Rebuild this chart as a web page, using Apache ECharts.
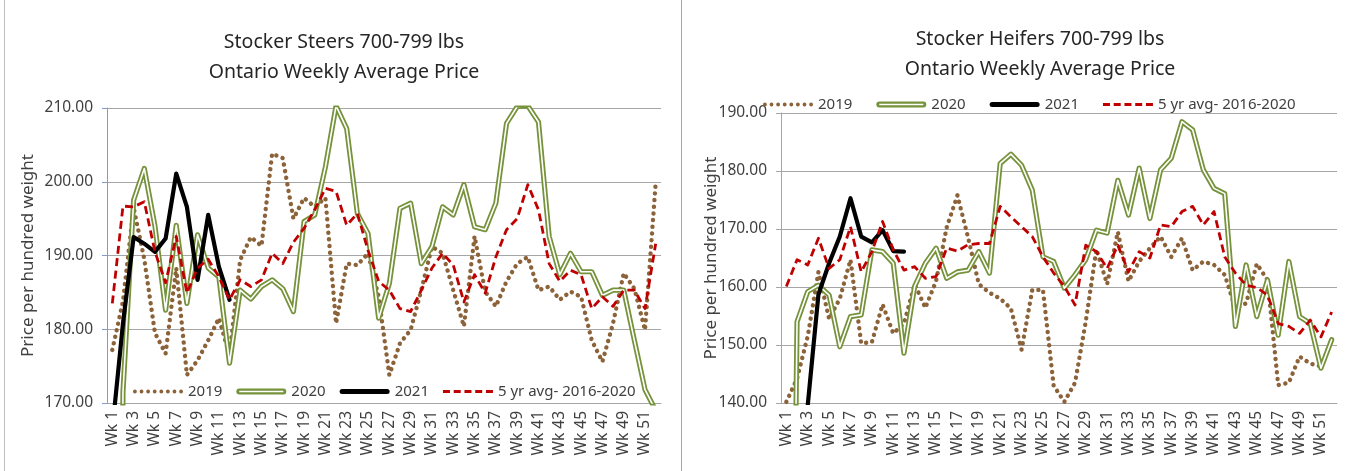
<!DOCTYPE html>
<html><head><meta charset="utf-8">
<script src="https://cdn.jsdelivr.net/npm/echarts@6/dist/echarts.min.js"></script>
<style>html,body{margin:0;padding:0;background:#fff;overflow:hidden}
#wrap{position:relative;width:1356px;height:471px}
#c1{position:absolute;left:0;top:0;width:680px;height:471px}
#c2{position:absolute;left:680px;top:0;width:676px;height:471px}
</style></head><body><div id="wrap"><div id="c1"></div><div id="c2"></div></div>
<script>
const weeks = ['Wk 1','Wk 2','Wk 3','Wk 4','Wk 5','Wk 6','Wk 7','Wk 8','Wk 9','Wk 10','Wk 11','Wk 12','Wk 13','Wk 14','Wk 15','Wk 16','Wk 17','Wk 18','Wk 19','Wk 20','Wk 21','Wk 22','Wk 23','Wk 24','Wk 25','Wk 26','Wk 27','Wk 28','Wk 29','Wk 30','Wk 31','Wk 32','Wk 33','Wk 34','Wk 35','Wk 36','Wk 37','Wk 38','Wk 39','Wk 40','Wk 41','Wk 42','Wk 43','Wk 44','Wk 45','Wk 46','Wk 47','Wk 48','Wk 49','Wk 50','Wk 51','Wk 52'];
const seriesNames = ['2019','2020','2021','5 yr avg- 2016-2020'];

const steers2019 = [177.2,183.8,196.5,189.5,179.5,176.7,188.3,173.8,175.8,178.5,181.5,176.5,189.4,192.5,191.3,203.8,203.2,195,197.8,196.6,197.8,180.8,188.9,188.7,190.3,184.4,173.8,178.1,179.9,185.3,191.2,190.3,185.3,180.4,192.6,185.1,183.1,186.5,188.9,189.8,185.3,185.8,184,185.1,184.4,178.5,175.6,180.8,187.6,185.5,179.9,199.8];
const steers2020 = [0,171.5,197.5,201.8,194,182.6,194.1,183.5,192.8,188.3,187.1,175.4,185.3,184.1,185.8,186.7,185.5,182.4,194.6,195.5,202,210.3,207.2,195.7,193,181.5,186.2,196.4,197.1,188.9,191.2,196.6,195.5,199.6,193.9,193.5,197.1,207.9,210.2,210.3,208.1,192.6,187.4,190.3,187.8,187.8,184.6,185.3,185.3,178.5,171.8,169];
const steers2021 = [166.4,180.8,192.5,191.6,190.5,192.3,201.1,196.6,186.7,195.5,188.5,184];
const steersAvg = [183.5,196.7,196.6,197.3,190.5,186.3,192.6,184.9,188.3,189.5,187.1,184,186.7,185.8,186.7,190.3,188.9,191.8,193.7,196.2,199.1,198.7,194.1,195.7,190.7,186.5,185.3,182.8,182.4,185.3,188.3,190.3,188.7,183.7,187.4,184.9,189.8,193.5,195,199.6,196.2,188.9,186.5,188,187.4,182.8,184.4,183.1,185.3,185.3,182.8,191.6];

const heifers2019 = [140.2,144.2,151.5,162.6,154.5,158,164.7,150.3,150.5,157,152,153.7,160.5,156.4,161,170.3,175.8,168.5,160.5,159,158,156.3,149.2,159.5,159.5,143,140.2,143.5,154,166.5,160.5,169.5,161,164.4,166.7,168.7,165.2,168.4,162.9,164.4,163.8,162.1,156.3,157.2,164,161.2,143.1,143.5,148,146.8,146.3,150.9];
const heifers2020 = [0,154,159.2,160.3,158.6,149.7,154.9,155.2,166.4,166.1,164.1,148.6,160.1,164.1,166.7,161.5,162.6,162.9,166.1,162.4,181.3,182.9,181,176.7,165.2,164.4,159.8,162.1,164.7,169.8,169.3,178.4,172.4,180.5,171.8,180.2,182.2,188.5,187.1,180.2,177,176.1,153.2,163.8,154.9,161.2,151.7,164.4,154.9,153.7,146,150.9];
const heifers2021 = [null,null,139.6,158.7,164.1,168.7,175.3,168.7,167.7,169.8,166.2,166.1];
const heifersAvg = [160.1,164.7,163.8,168.4,163.2,164.7,170.4,162.6,166.1,171.3,166.4,162.9,163.5,161.5,161.8,166.7,166.2,167.3,167.5,167.5,173.9,172.1,170.4,168.7,165.2,162.4,160.1,156.9,167.2,166.1,163.2,167.2,162.6,166.1,165,170.7,170.4,173,173.9,170.7,173,165.2,162.4,160.3,159.9,158.6,153.7,153.2,152,154.3,151.4,155.7];

const steersTicks = {min:170, max:210, interval:10};
const heifersTicks = {min:140, max:190, interval:10};

const FONT = '"Noto Sans", sans-serif';
const C19 = '#8C6239', C20 = '#76933C', C21 = '#000000', CAVG = '#C00000';

function dots(){let s='path://';for(let k=0;k<8;k++){const x=2+k*6.86;s+='M'+(x-2)+',4a2,2 0 1,0 4,0a2,2 0 1,0 -4,0Z';}return s;}
const ICON19 = dots();
const ICON20 = 'path://M3,0H47A3,3 0 0,1 47,6H3A3,3 0 0,1 3,0Z M3,2.2V3.8H47V2.2Z';
const ICON21 = 'path://M2.5,0H47.5A2.5,2.5 0 0,1 47.5,5H2.5A2.5,2.5 0 0,1 2.5,0Z';
const ICONAVG = 'path://M0,0H7V2.8H0Z M10.75,0H17.75V2.8H10.75Z M21.5,0H28.5V2.8H21.5Z M32.25,0H39.25V2.8H32.25Z M43,0H50V2.8H43Z';

function build(cfg){
  return {
    animation:false,
    textStyle:{fontFamily:FONT},
    graphic: cfg.graphic,
    legend:{
      left:cfg.legend.left, top:cfg.legend.top, itemWidth:50, itemHeight:10, itemGap:cfg.legend.gap,
      textStyle:{fontFamily:FONT,fontSize:15,color:'#404040'},
      itemStyle:{borderWidth:0},
      data:[{name:seriesNames[0],icon:ICON19},{name:seriesNames[1],icon:ICON20},{name:seriesNames[2],icon:ICON21},{name:seriesNames[3],icon:ICONAVG}]
    },
    grid:cfg.grid,
    xAxis:{type:'category',data:weeks,boundaryGap:true,
      axisLine:{lineStyle:{color:'#A6A6A6',width:1}},
      axisTick:{interval:0,length:5,lineStyle:{color:'#A6A6A6'}},
      axisLabel:{interval:1,rotate:90,margin:8,fontSize:15.5,color:'#404040',fontFamily:FONT},
      splitLine:{show:false}},
    yAxis:{type:'value',min:cfg.ticks.min,max:cfg.ticks.max,interval:cfg.ticks.interval,
      name:'Price per hundred weight',nameLocation:'middle',nameGap:cfg.nameGap,nameRotate:90,
      nameMoveOverlap:false,
      nameTextStyle:{fontSize:17,color:'#404040',fontFamily:FONT},
      axisLine:{show:true,lineStyle:{color:cfg.yAxisColor,width:1}},
      axisTick:{show:true,length:5,lineStyle:{color:cfg.yAxisColor}},
      axisLabel:{margin:14,fontSize:15.5,color:'#404040',fontFamily:FONT,formatter:v=>v.toFixed(2)},
      splitLine:{lineStyle:{color:'#A6A6A6',width:1}}},
    series:[
      {name:seriesNames[0],type:'line',data:cfg.d19,symbol:'none',clip:true,z:2,
        itemStyle:{color:C19},lineStyle:{color:C19,width:4.4,type:[0.1,6.6],cap:'round',join:'round'}},
      {name:seriesNames[1],type:'line',data:cfg.d20,symbol:'none',clip:true,z:3,
        itemStyle:{color:C20},lineStyle:{color:C20,width:5.2,join:'round',cap:'round'}},
      {name:'2020 inner',type:'line',data:cfg.d20,symbol:'none',clip:true,z:4,silent:true,
        itemStyle:{color:'#ffffff'},lineStyle:{color:'#ffffff',width:1.6,join:'round',cap:'round'}},
      {name:seriesNames[2],type:'line',data:cfg.d21,symbol:'none',clip:true,z:5,connectNulls:false,
        itemStyle:{color:C21},lineStyle:{color:C21,width:4.2,join:'round',cap:'round'}},
      {name:seriesNames[3],type:'line',data:cfg.dAvg,symbol:'none',clip:true,z:6,
        itemStyle:{color:CAVG},lineStyle:{color:CAVG,width:2.8,type:[8,4.5],join:'round'}}
    ]
  };
}

function titleText(x,y,t){return {type:'text',x:x,y:y,style:{text:t,x:0,y:0,align:'center',verticalAlign:'middle',fontFamily:FONT,fontSize:19.5,fill:'#262626'}};}

const ch1 = echarts.init(document.getElementById('c1'),null,{renderer:'canvas'});
ch1.setOption(build({
  ticks:steersTicks, d19:steers2019, d20:steers2020, d21:steers2021, dAvg:steersAvg,
  grid:{left:107,top:108,width:554,height:295},
  nameGap:70, yAxisColor:'#7F9CCB',
  legend:{left:128,top:379,gap:14},
  graphic:[
    titleText(344,42,'Stocker Steers 700-799 lbs'),
    titleText(344,72,'Ontario Weekly Average Price'),
    {type:'line',shape:{x1:4.5,y1:0,x2:4.5,y2:471},style:{stroke:'#BFBFBF',lineWidth:1}}
  ]
}));

const ch2 = echarts.init(document.getElementById('c2'),null,{renderer:'canvas'});
ch2.setOption(build({
  ticks:heifersTicks, d19:heifers2019, d20:heifers2020, d21:heifers2021, dAvg:heifersAvg,
  grid:{left:101,top:113,width:556,height:290},
  nameGap:61, yAxisColor:'#A6A6A6',
  legend:{left:78,top:92,gap:24},
  graphic:[
    titleText(360,39,'Stocker Heifers 700-799 lbs'),
    titleText(360,69,'Ontario Weekly Average Price'),
    {type:'line',shape:{x1:1.5,y1:0,x2:1.5,y2:471},style:{stroke:'#A6A6A6',lineWidth:1}}
  ]
}));
</script></body></html>
